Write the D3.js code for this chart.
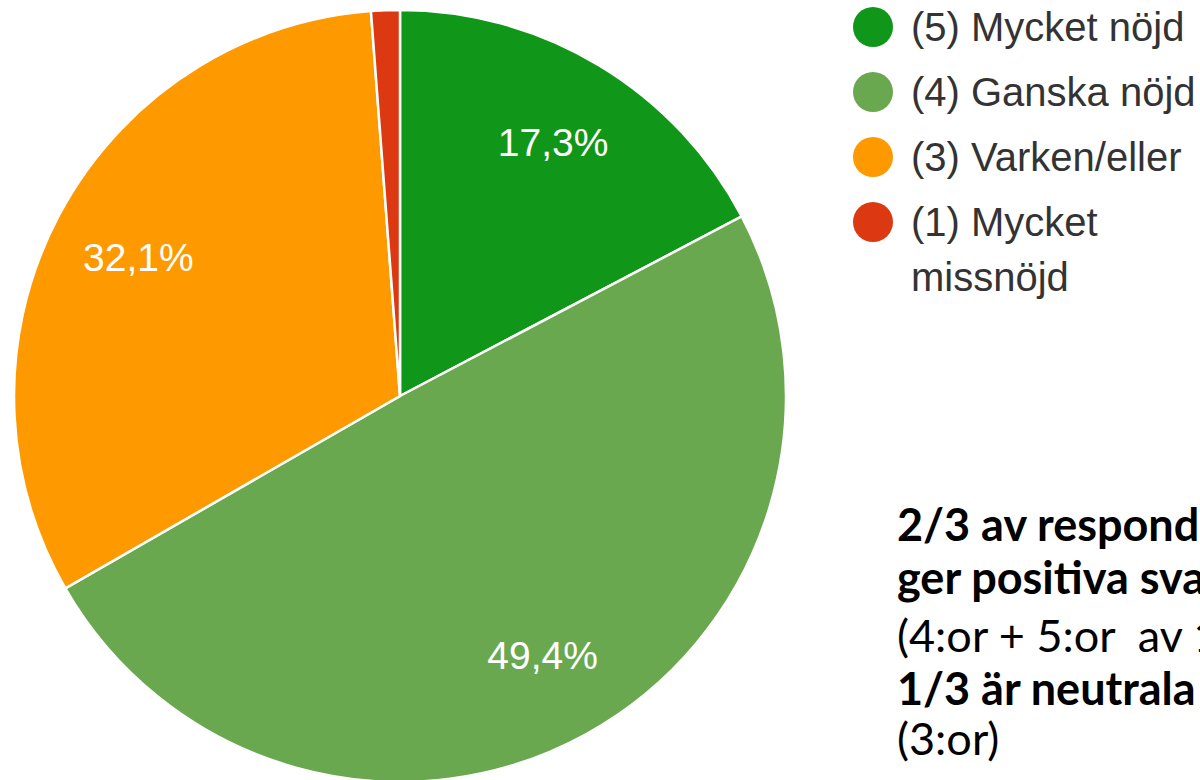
<!DOCTYPE html>
<html>
<head>
<meta charset="utf-8">
<script src="https://cdn.jsdelivr.net/npm/d3@7"></script>
<style>
  html, body { margin: 0; padding: 0; background: #fff; }
  svg { display: block; }
  .note { white-space: pre; }
</style>
</head>
<body>
<div id="chart"></div>
<script>
// data
const categories = ["(5) Mycket nöjd", "(4) Ganska nöjd", "(3) Varken/eller", "(1) Mycket missnöjd"];
const values = [17.3, 49.4, 32.1, 1.2];
const colors = ["#109618", "#6aa84f", "#ff9900", "#dc3912"];
// legend rows (long labels are wrapped like in the original)
const legendLines = [["(5) Mycket nöjd"], ["(4) Ganska nöjd"], ["(3) Varken/eller"], ["(1) Mycket", "missnöjd"]];
// note on the right, [text, bold]
const noteLines = [
  ["2/3 av respondenterna", true],
  ["ger positiva svar", true],
  ["(4:or + 5:or  av 1-5)", false],
  ["1/3 är neutrala", true],
  ["(3:or)", false]
];

const W = 1200, H = 780;
const cx = 400, cy = 396, R = 386;

const svg = d3.select("#chart")
  .append("svg")
  .attr("width", W)
  .attr("height", H);

const sv = d3.formatLocale({ decimal: ",", thousands: " ", grouping: [3], currency: ["", " kr"] });
const fmt = sv.format(".1f");

const total = d3.sum(values);
const data = categories.map((c, i) => ({ name: c, value: values[i], color: colors[i] }));

const pie = d3.pie().value(d => d.value).sort(null);
const arc = d3.arc().innerRadius(0).outerRadius(R);
const labelArc = d3.arc().innerRadius(296).outerRadius(296);

const g = svg.append("g").attr("transform", `translate(${cx},${cy})`);
const arcs = pie(data);

g.selectAll("path")
  .data(arcs)
  .enter()
  .append("path")
  .attr("d", arc)
  .attr("fill", d => d.data.color)
  .attr("stroke", "#fff")
  .attr("stroke-width", 2.5);

// procent-etiketter, bara för stora tårtbitar
g.selectAll(".lbl")
  .data(arcs.filter(d => d.data.value / total > 0.05))
  .enter()
  .append("text")
  .attr("class", "lbl")
  .attr("transform", d => `translate(${labelArc.centroid(d)})`)
  .attr("text-anchor", "middle")
  .attr("dominant-baseline", "central")
  .attr("font-family", "'Liberation Sans', Arial, sans-serif")
  .attr("font-size", 39)
  .attr("fill", "#fff")
  .text(d => fmt(d.data.value) + "%");

// legend
const legend = svg.append("g").attr("transform", "translate(873,27)");
const rows = legend.selectAll(".row")
  .data(data)
  .enter()
  .append("g")
  .attr("class", "row")
  .attr("transform", (d, i) => `translate(0,${i * 65})`);

rows.append("circle")
  .attr("r", 20)
  .attr("fill", d => d.color);

rows.append("text")
  .attr("x", 38)
  .attr("dominant-baseline", "central")
  .attr("font-family", "'Liberation Sans', Arial, sans-serif")
  .attr("font-size", 40)
  .attr("fill", "#333")
  .selectAll("tspan")
  .data((d, i) => legendLines[i])
  .enter()
  .append("tspan")
  .attr("x", 38)
  .attr("dy", (d, i) => i === 0 ? 0 : 55)
  .text(d => d);

// kommentar nere till höger (texten är avklippt i högerkanten som i originalet)
const noteY = [541, 594, 652, 705, 755];
svg.append("g")
  .selectAll("text")
  .data(noteLines)
  .enter()
  .append("text")
  .attr("class", "note")
  .attr("x", 897)
  .attr("y", (d, i) => noteY[i])
  .attr("font-family", "Lato, 'Open Sans', sans-serif")
  .attr("font-size", 45)
  .attr("font-weight", d => d[1] ? 700 : 400)
  .attr("fill", "#000")
  .text(d => d[0]);
</script>
</body>
</html>
